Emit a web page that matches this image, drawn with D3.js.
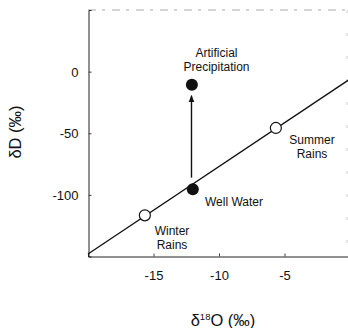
<!DOCTYPE html>
<html><head><meta charset="utf-8">
<script src="https://cdn.jsdelivr.net/npm/d3@7"></script>
<style>body{margin:0;background:#fff}svg{display:block}text{font-family:"Liberation Sans",Arial,sans-serif;fill:#111}</style>
</head><body><svg id="c" width="348" height="328"></svg>
<script>
const xTicks = [-15, -10, -5];
const yTicks = [0, -50, -100];
const lineX = [-20, 0];
const lineY = [-148, -6];
const openPts = [{name:"Winter Rains", x:-15.66, y:-116.6}, {name:"Summer Rains", x:-5.66, y:-45.7}];
const filledPts = [{name:"Well Water", x:-12.0, y:-95.4}, {name:"Artificial Precipitation", x:-12.07, y:-10.7}];
const arrowX = [-12.1, -12.1];
const arrowY = [-86, -19.5];

const svg = d3.select("#c");
const x = d3.scaleLinear().domain([-20, 0]).range([88, 350]);
const y = d3.scaleLinear().domain([-150, 50]).range([256.5, 10]);
const fmt = d => String(d);

svg.append("defs").append("marker").attr("id","ah").attr("viewBox","0 0 10 10")
  .attr("refX",9).attr("refY",5).attr("markerWidth",5).attr("markerHeight",7).attr("orient","auto")
  .append("path").attr("d","M0,1 L10,5 L0,9 Z").attr("fill","#111");

// frame: top and right faint
svg.append("line").attr("x1",88).attr("x2",347).attr("y1",10).attr("y2",10)
  .attr("stroke","#aaa").attr("stroke-width",1).attr("stroke-dasharray","8,6,3,7");
svg.append("line").attr("x1",347).attr("x2",347).attr("y1",10).attr("y2",256)
  .attr("stroke","#ccc").attr("stroke-width",1).attr("stroke-dasharray","3,20");

// axes
const yAxis = d3.axisLeft(y).tickValues(yTicks).tickSize(-3).tickPadding(10).tickFormat(fmt);
const gy = svg.append("g").attr("transform","translate(88.5,0)").call(yAxis);
gy.select(".domain").attr("stroke","#222");
gy.selectAll(".tick line").attr("stroke","#444");
gy.selectAll(".tick text").style("font-size","13px").attr("dy","0.35em");

const xAxis = d3.axisBottom(x).tickValues(xTicks).tickSize(-3).tickPadding(14).tickFormat(fmt);
const gx = svg.append("g").attr("transform","translate(0,256.5)").call(xAxis);
gx.select(".domain").attr("stroke","#222");
gx.selectAll(".tick line").attr("stroke","#444");
gx.selectAll(".tick text").style("font-size","13px");

// meteoric water line
const line = d3.line().x(d=>x(d[0])).y(d=>y(d[1]));
svg.append("path").datum(d3.zip(lineX,lineY)).attr("d",line).attr("fill","none").attr("stroke","#111").attr("stroke-width",1.3);

// arrow
svg.append("line").attr("x1",x(arrowX[0])).attr("x2",x(arrowX[1])).attr("y1",y(arrowY[0])).attr("y2",y(arrowY[1]))
  .attr("stroke","#111").attr("stroke-width",1.4).attr("marker-end","url(#ah)");

// points
svg.selectAll(".op").data(openPts).join("circle").attr("cx",d=>x(d.x)).attr("cy",d=>y(d.y)).attr("r",5.5)
  .attr("fill","#fff").attr("stroke","#111").attr("stroke-width",1.2);
svg.selectAll(".fp").data(filledPts).join("circle").attr("cx",d=>x(d.x)).attr("cy",d=>y(d.y)).attr("r",6)
  .attr("fill","#111");

// labels
function lab(lines, cx, cy, anchor){
  const t = svg.append("text").attr("text-anchor",anchor).style("font-size","12px");
  lines.forEach((s,i)=>t.append("tspan").attr("x",cx).attr("y",cy+i*13.5).text(s));
}
lab(["Artificial","Precipitation"], 216.5, 57, "middle");
lab(["Summer","Rains"], 312, 144, "middle");
lab(["Well Water"], 205, 206, "start");
lab(["Winter","Rains"], 172, 235, "middle");

// axis titles
svg.append("text").attr("transform","translate(21,132) rotate(-90)").attr("text-anchor","middle")
  .style("font-size","16.5px").text("δD (‰)");
const xt = svg.append("text").attr("x",223).attr("y",326).attr("text-anchor","middle").style("font-size","16.5px");
xt.append("tspan").text("δ");
xt.append("tspan").attr("dy",-6).style("font-size","9.5px").text("18");
xt.append("tspan").attr("dy",6).text("O (‰)");
</script></body></html>
